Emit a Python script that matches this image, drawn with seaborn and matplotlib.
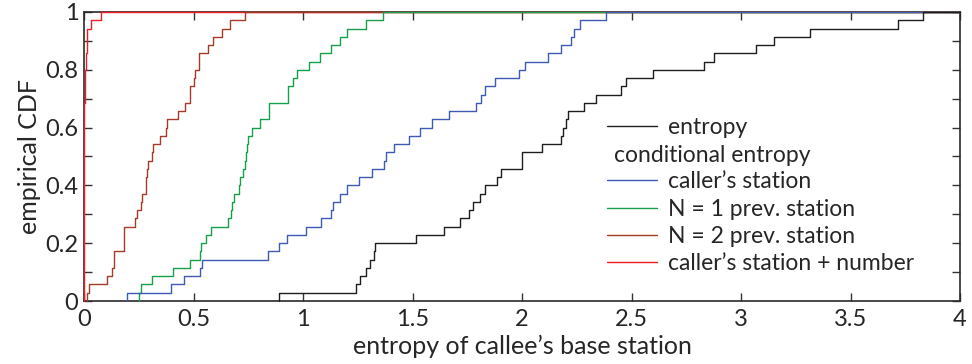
import numpy as np
import pandas as pd
import matplotlib
matplotlib.use("Agg")
import matplotlib.pyplot as plt
from matplotlib.lines import Line2D
from matplotlib.ticker import MultipleLocator, FormatStrFormatter
import seaborn as sns

# Per-user entropy of the callee's base station (35 users per series)
entropy = [0.889, 1.241, 1.262, 1.287, 1.308, 1.323, 1.331, 1.518, 1.643, 1.716,
           1.759, 1.774, 1.807, 1.830, 1.884, 1.902, 1.998, 1.998, 2.092, 2.180,
           2.185, 2.199, 2.208, 2.284, 2.340, 2.454, 2.477, 2.599, 2.830, 2.876,
           3.068, 3.150, 3.314, 3.715, 3.829]
callers_station = [0.197, 0.395, 0.458, 0.530, 0.540, 0.840, 0.891, 0.925, 1.013, 1.080,
                   1.126, 1.138, 1.168, 1.199, 1.256, 1.316, 1.369, 1.378, 1.416, 1.482,
                   1.533, 1.590, 1.666, 1.789, 1.812, 1.830, 1.876, 1.987, 2.013, 2.119,
                   2.180, 2.226, 2.237, 2.267, 2.383]
prev1_station = [0.250, 0.261, 0.310, 0.405, 0.483, 0.530, 0.536, 0.556, 0.579, 0.658,
                 0.669, 0.678, 0.686, 0.708, 0.711, 0.727, 0.736, 0.742, 0.746, 0.749,
                 0.765, 0.803, 0.845, 0.845, 0.932, 0.932, 0.955, 0.973, 1.028, 1.077,
                 1.130, 1.171, 1.199, 1.287, 1.366]
prev2_station = [0.014, 0.025, 0.103, 0.130, 0.135, 0.135, 0.183, 0.183, 0.183, 0.233,
                 0.243, 0.258, 0.267, 0.282, 0.285, 0.288, 0.294, 0.310, 0.316, 0.349,
                 0.373, 0.377, 0.430, 0.460, 0.483, 0.483, 0.501, 0.506, 0.526, 0.526,
                 0.567, 0.587, 0.628, 0.666, 0.734]
station_number = [0.0] * 24 + [0.003, 0.004, 0.005, 0.006, 0.007, 0.008,
                               0.012, 0.014, 0.014, 0.031, 0.077]

labels = ["entropy", "caller\u2019s station", "N = 1 prev. station",
          "N = 2 prev. station", "caller\u2019s station + number"]
colors = ["#1e1e1e", "#3d5bb5", "#15a04c", "#a53a28", "#ee1c24"]
series = [entropy, callers_station, prev1_station, prev2_station, station_number]

x_ticks = [0, 0.5, 1, 1.5, 2, 2.5, 3, 3.5, 4]
y_ticks = [0, 0.2, 0.4, 0.6, 0.8, 1]
x_max = 4


def ecdf_steps(values, name):
    xs = np.sort(np.asarray(values, dtype=float))
    n = len(xs)
    x = np.concatenate([[xs[0]], xs, [x_max]])
    y = np.concatenate([[0.0], np.arange(1, n + 1) / n, [1.0]])
    return pd.DataFrame({"x": x, "y": y, "series": name})


sns.set_theme(style="ticks")
plt.rcParams["font.family"] = ["Lato", "DejaVu Sans"]

fig = plt.figure(figsize=(9.72, 3.64), dpi=100)
ax = fig.add_axes([84 / 972, 1 - 301 / 364, (960 - 84) / 972, (301 - 12) / 364])

# draw the last series first so the plain entropy curve sits on top
for vals, name, col in reversed(list(zip(series, labels, colors))):
    df = ecdf_steps(vals, name)
    sns.lineplot(data=df, x="x", y="y", color=col, estimator=None, sort=False,
                 drawstyle="steps-post", linewidth=1.0, clip_on=False,
                 zorder=3, ax=ax, legend=False)

ax.set_xlim(0, 4)
ax.set_ylim(0, 1)
ax.set_xticks(x_ticks)
ax.set_yticks(y_ticks)
ax.yaxis.set_minor_locator(MultipleLocator(0.1))
ax.xaxis.set_major_formatter(FormatStrFormatter("%g"))
ax.yaxis.set_major_formatter(FormatStrFormatter("%g"))

ax.tick_params(which="both", direction="in", length=6, width=1.0,
               color="#333333", top=True, right=True, labelsize=17)
ax.tick_params(axis="x", pad=6)
ax.tick_params(axis="y", pad=4)

for sp in ax.spines.values():
    sp.set_visible(True)
    sp.set_color("#2a2a2a")
    sp.set_linewidth(1.2)

ax.set_xlabel("entropy of callee\u2019s base station", fontsize=18, labelpad=3)
ax.set_ylabel("empirical CDF", fontsize=18, labelpad=3)

# legend: plain entropy, then the conditional-entropy group under a header
leg_font = 16.5
h_ent = [Line2D([], [], color=colors[0], lw=1.0)]
leg1 = ax.legend(h_ent, [labels[0]], loc="upper left", frameon=False,
                 bbox_to_anchor=(0.597, 0.636), borderpad=0, borderaxespad=0,
                 handlelength=2.2, handletextpad=0.45, fontsize=leg_font)
ax.add_artist(leg1)
h_cond = [Line2D([], [], color=c, lw=1.0) for c in colors[1:]]
leg2 = ax.legend(h_cond, labels[1:], loc="upper left", frameon=False,
                 title="conditional entropy", title_fontsize=leg_font,
                 alignment="left", bbox_to_anchor=(0.597, 0.540), borderpad=0,
                 borderaxespad=0, handlelength=2.2, handletextpad=0.45,
                 labelspacing=0.27, fontsize=leg_font)
leg2._legend_box.sep = 4
leg2.get_title().set_x(7)

fig.savefig("out.png", dpi=100)
